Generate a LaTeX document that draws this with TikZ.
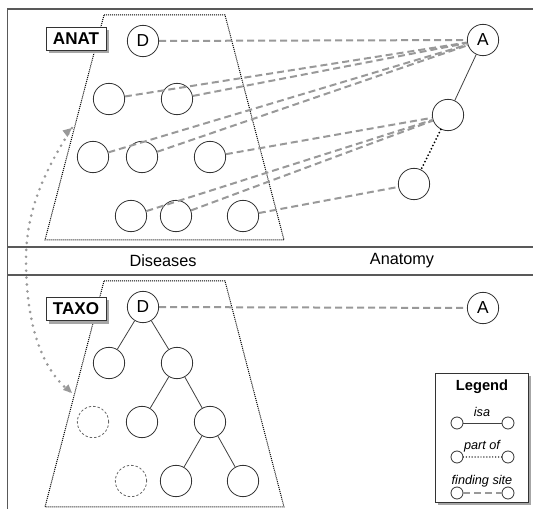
\documentclass[tikz,border=0pt]{standalone}
\usepackage{fontspec}
\setmainfont{Liberation Sans}
\usetikzlibrary{arrows.meta,shadows}
\begin{document}
\begin{tikzpicture}[x=0.75pt,y=-0.75pt,
  cnode/.style={circle,draw=black!80,line width=0.6pt,minimum size=23.5pt,inner sep=0pt,font=\fontsize{13}{15}\selectfont},
  ghost/.style={cnode,draw=black!60,dash pattern=on 1.8pt off 1.5pt},
  snode/.style={circle,draw=black!80,line width=0.6pt,minimum size=9pt,inner sep=0pt},
  fsite/.style={draw=black!40,line width=1.5pt,dash pattern=on 5.25pt off 3pt},
  isaline/.style={draw=black!75,line width=0.6pt},
  partof/.style={draw=black,line width=1.5pt,dash pattern=on 0pt off 2.7pt,line cap=round},
  trap/.style={draw=black,line width=0.75pt,dash pattern=on 0.75pt off 0.75pt},
  framel/.style={draw=black!65,line width=1.1pt},
  tagbox/.style={draw=black!80,fill=white,font=\bfseries\fontsize{12.8}{14}\selectfont,minimum width=45pt,minimum height=17.5pt,inner sep=0pt,drop shadow={shadow xshift=2.25pt,shadow yshift=-2.25pt,fill=black!35,opacity=1}},
  arrowdots/.style={draw=black!40,line width=2.2pt,dash pattern=on 0pt off 5.2pt,line cap=round},
  band/.style={font=\fontsize{12.2}{14}\selectfont},
  legtitle/.style={font=\bfseries\fontsize{11}{13}\selectfont},
  leglabel/.style={font=\itshape\fontsize{9.5}{11}\selectfont,inner sep=0pt}
]
\useasboundingbox (0,0) rectangle (533,509);

% frame
\draw[framel] (7.5,509) -- (7.5,9) -- (533,9);
\draw[framel] (7.5,247) -- (533,247);
\draw[framel] (7.5,275) -- (533,275);
\node[band] (dis) at (163,261) {Diseases};
\node[band] (ana) at (402,261) {Anatomy};

% trapezoids
\draw[trap] (104,15) -- (225,15) -- (284,240) -- (45,240) -- cycle;
\draw[trap] (104,281) -- (225,281) -- (284,507) -- (45,507) -- cycle;

% tags
\node[tagbox] (anattag) at (76,38.5) {ANAT};
\node[tagbox] (taxotag) at (76,309) {TAXO};

% upper panel nodes
\node[cnode] (D1) at (143,41) {D};
\node[cnode] (a1) at (109,99) {};
\node[cnode] (a2) at (177,99) {};
\node[cnode] (a3) at (93,157) {};
\node[cnode] (a4) at (142,157) {};
\node[cnode] (a5) at (210,157) {};
\node[cnode] (a6) at (131,216) {};
\node[cnode] (a7) at (176,216) {};
\node[cnode] (a8) at (243,216) {};
\node[cnode] (A1) at (483,40) {A};
\node[cnode] (m) at (448,115) {};
\node[cnode] (l) at (414,184) {};

\draw[fsite] (D1) -- (A1);
\draw[fsite] (a1) -- (A1);
\draw[fsite] (a2) -- (A1);
\draw[fsite] (a3) -- (A1);
\draw[fsite] (a4) -- (A1);
\draw[fsite] (a5) -- (m);
\draw[fsite] (a6) -- (m);
\draw[fsite] (a7) -- (m);
\draw[fsite] (a8) -- (l);
\draw[isaline] (A1) -- (m);
\draw[partof] (m) -- (l);

% lower panel nodes
\node[cnode] (D2) at (143,307) {D};
\node[cnode] (b1) at (109,363) {};
\node[cnode] (b2) at (177,363) {};
\node[ghost] (g1) at (93,422) {};
\node[cnode] (b3) at (142,422) {};
\node[cnode] (b4) at (210,422) {};
\node[ghost] (g2) at (131,481) {};
\node[cnode] (b5) at (176,481) {};
\node[cnode] (b6) at (243,481) {};
\node[cnode] (A2) at (483,308) {A};

\draw[fsite] (D2) -- (A2);
\draw[isaline] (D2) -- (b1);
\draw[isaline] (D2) -- (b2);
\draw[isaline] (b2) -- (b3);
\draw[isaline] (b2) -- (b4);
\draw[isaline] (b4) -- (b5);
\draw[isaline] (b4) -- (b6);

% curved arrow
\coordinate (arrtop) at (72,128);
\coordinate (arrmid) at (26,260);
\coordinate (arrbot) at (72,393);
\draw[arrowdots] (arrtop) .. controls (45,170) and (26,210) .. (arrmid)
  .. controls (26,320) and (40,370) .. (arrbot);
\fill[black!40] (arrtop) -- ++(-9.5,2.5) -- ++(5,6.5) -- cycle;
\fill[black!40] (arrbot) -- ++(-3.5,-8.5) -- ++(-5.5,5.5) -- cycle;

% legend
\node[draw=black!80,fill=white,minimum width=69.75pt,minimum height=96.75pt,inner sep=0pt,
  drop shadow={shadow xshift=2.25pt,shadow yshift=-2.25pt,fill=black!35,opacity=1}] (leg) at (481.5,437.5) {};
\node[legtitle] (legt) at (482,387) {Legend};
\node[leglabel] (lisa) at (482,412) {isa};
\node[snode] (li1) at (457,423) {};
\node[snode] (li2) at (508,423) {};
\draw[isaline] (li1) -- (li2);
\node[leglabel] (lpo) at (482,446) {part of};
\node[snode] (lp1) at (457,457) {};
\node[snode] (lp2) at (508,457) {};
\draw[draw=black,line width=1.1pt,dash pattern=on 0pt off 2.2pt,line cap=round] (lp1) -- (lp2);
\node[leglabel] (lfs) at (482,481) {finding site};
\node[snode] (lf1) at (457,493) {};
\node[snode] (lf2) at (508,493) {};
\draw[fsite,line width=1.2pt] (lf1) -- (lf2);
\end{tikzpicture}
\end{document}
